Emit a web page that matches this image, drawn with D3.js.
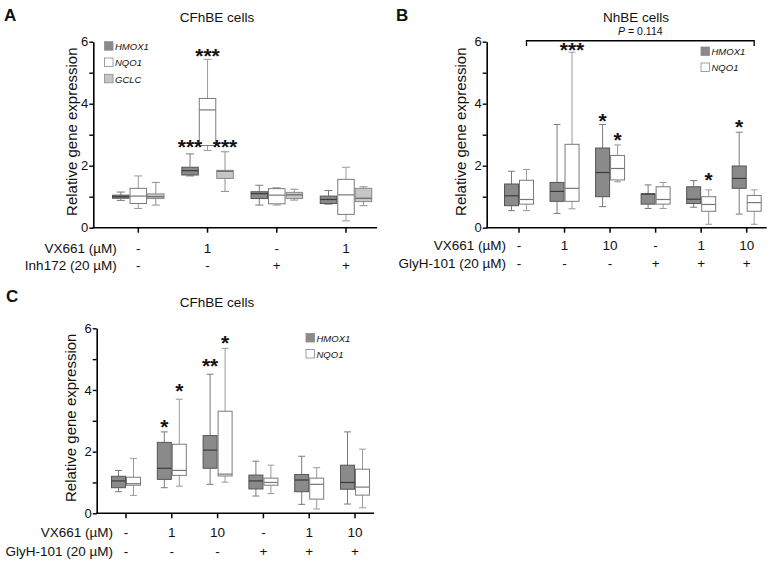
<!DOCTYPE html>
<html><head><meta charset="utf-8">
<script src="https://cdn.jsdelivr.net/npm/d3@7"></script>
<style>
body{margin:0;background:#fff}
svg{display:block}
text{font-family:"Liberation Sans",Arial,Helvetica,sans-serif;fill:#111}
</style>
</head><body>
<svg id="chart" width="773" height="565"></svg>
<script>
// ---------------- DATA ----------------
const yTickValues = [0, 1, 2, 3, 4, 5, 6];
const yTickLabels = ["0", "", "2", "", "4", "", "6"];
const seriesA = ["HMOX1", "NQO1", "GCLC"];
const seriesBC = ["HMOX1", "NQO1"];

// Panel A  (each entry: [min, q1, median, q3, max])
const vx661A = ["-", "1", "-", "1"];
const inh172A = ["-", "-", "+", "+"];
const hmox1A = [[0.88,0.95,1.00,1.05,1.15],[1.67,1.70,1.84,1.95,2.38],[0.73,0.94,1.10,1.16,1.37],[0.76,0.78,0.91,1.02,1.20]];
const nqo1A  = [[0.62,0.78,1.02,1.27,1.67],[2.49,2.65,3.80,4.17,5.43],[0.73,0.77,1.05,1.26,1.29],[0.22,0.43,1.06,1.56,1.95]];
const gclcA  = [[0.73,0.94,1.00,1.09,1.46],[1.17,1.59,1.82,1.85,2.45],[0.89,0.94,1.06,1.14,1.24],[0.71,0.84,0.95,1.27,1.32]];
const sigA = [[1,"HMOX1","***",2.77],[1,"NQO1","***",5.71],[1,"GCLC","***",2.77]];

// Panel B
const vx661B = ["-", "1", "10", "-", "1", "10"];
const glyhB = ["-", "-", "-", "+", "+", "+"];
const hmox1B = [[0.55,0.71,1.03,1.41,1.82],[0.46,0.85,1.17,1.46,3.33],[0.68,1.00,1.78,2.57,3.33],[0.62,0.76,1.09,1.09,1.38],[0.66,0.78,0.92,1.32,1.52],[0.44,1.27,1.59,1.99,3.08]];
const nqo1B  = [[0.55,0.76,0.91,1.53,1.88],[0.61,0.85,1.27,2.69,5.66],[1.48,1.54,1.91,2.33,2.67],[0.62,0.76,0.91,1.32,1.46],[0.11,0.53,0.75,1.00,1.22],[0.11,0.53,0.81,1.04,1.22]];
const sigB = [[1,"NQO1","***",5.89],[2,"HMOX1","*",3.60],[2,"NQO1","*",2.99],[4,"NQO1","*",1.70],[5,"HMOX1","*",3.42]];
const bracketB = {from: 0, to: 5, series: "NQO1", level: 6.03, drop: 0.17, label: "0.114"};

// Panel C
const vx661C = ["-", "1", "10", "-", "1", "10"];
const glyhC = ["-", "-", "-", "+", "+", "+"];
const hmox1C = [[0.70,0.83,1.05,1.20,1.39],[0.83,1.10,1.46,2.30,2.64],[0.94,1.46,2.05,2.52,4.51],[0.56,0.79,1.05,1.24,1.69],[0.29,0.70,1.08,1.26,1.85],[0.30,0.78,1.00,1.56,2.64]];
const nqo1C  = [[0.58,0.91,0.96,1.17,1.78],[0.88,1.23,1.39,2.24,3.70],[1.01,1.21,1.27,3.31,5.35],[0.64,0.91,1.00,1.14,1.56],[0.14,0.46,0.94,1.14,1.48],[0.18,0.59,0.85,1.43,2.08]];
const sigC = [[1,"HMOX1","*",2.97],[1,"NQO1","*",4.13],[2,"HMOX1","**",4.94],[2,"NQO1","*",5.70]];

// ---------------- STYLE ----------------
const style = {
  HMOX1: {fill:"#8a8a8a", stroke:"#555", median:"#3a3a3a", whisker:"#7a7a7a"},
  NQO1:  {fill:"#ffffff", stroke:"#7a7a7a", median:"#777", whisker:"#9a9a9a"},
  GCLC:  {fill:"#c6c6c6", stroke:"#8a8a8a", median:"#666", whisker:"#8f8f8f"}
};

const svg = d3.select("#chart");

function drawPanel(cfg) {
  const g = svg.append("g");
  const y = d3.scaleLinear().domain([0, 6]).range([cfg.yBottom, cfg.yTop]);
  const x = d3.scalePoint().domain(d3.range(cfg.rows[0].length)).range(cfg.catRange);
  const s = d3.scaleBand().domain(cfg.series).range([-cfg.boxW * cfg.series.length / 2, cfg.boxW * cfg.series.length / 2]);
  const bw = s.bandwidth();
  const cx = (i, name) => x(i) + s(name) + bw / 2;

  // panel letter & title
  g.append("text").attr("x", cfg.letterX).attr("y", cfg.letterY)
    .style("font-size", "17px").style("font-weight", "bold").text(cfg.letter);
  g.append("text").attr("x", cfg.titleX).attr("y", cfg.titleY).attr("text-anchor", "middle")
    .style("font-size", "13.5px").text(cfg.title);

  // boxes
  cfg.series.forEach((name, si) => {
    const st = style[name];
    cfg.data[si].forEach((d, i) => {
      const [mn, q1, md, q3, mx] = d;
      const c = cx(i, name);
      const capW = bw * 0.46;
      const gg = g.append("g");
      // whiskers
      [[q3, mx], [q1, mn]].forEach(([a, b]) => {
        gg.append("line").attr("x1", c).attr("x2", c).attr("y1", y(a)).attr("y2", y(b))
          .attr("stroke", st.whisker).attr("stroke-width", 1);
        gg.append("line").attr("x1", c - capW / 2).attr("x2", c + capW / 2).attr("y1", y(b)).attr("y2", y(b))
          .attr("stroke", st.whisker).attr("stroke-width", 1);
      });
      gg.append("rect").attr("x", c - bw / 2 + 0.5).attr("width", bw - 1)
        .attr("y", y(q3)).attr("height", Math.max(0.5, y(q1) - y(q3)))
        .attr("fill", st.fill).attr("stroke", st.stroke).attr("stroke-width", 1);
      gg.append("line").attr("x1", c - bw / 2 + 0.5).attr("x2", c + bw / 2 - 0.5).attr("y1", y(md)).attr("y2", y(md))
        .attr("stroke", st.median).attr("stroke-width", 1.2);
    });
  });

  // significance stars
  cfg.sig.forEach(([i, name, lab, lev]) => {
    g.append("text").attr("x", cx(i, name)).attr("y", y(lev) + 12)
      .attr("text-anchor", "middle").style("font-size", "21px").style("font-weight", "bold")
      .text(lab);
  });

  // y axis
  const ax = d3.axisLeft(y).tickValues(yTickValues).tickFormat((d, i) => yTickLabels[i])
    .tickSize(4).tickSizeOuter(0).tickPadding(1);
  const ga = g.append("g").attr("transform", `translate(${cfg.axisX0},0)`).call(ax);
  ga.select(".domain").attr("stroke", "#000").attr("stroke-width", 1.6);
  ga.selectAll(".tick line").attr("stroke", "#000").attr("stroke-width", 1.4);
  ga.selectAll(".tick text").style("font-size", "13px").attr("fill", "#111")
    .style("font-family", '"Liberation Sans",Arial,sans-serif');

  // x axis
  g.append("line").attr("x1", cfg.axisX0 - 0.8).attr("x2", cfg.axisX1).attr("y1", y(0)).attr("y2", y(0))
    .attr("stroke", "#000").attr("stroke-width", 1.6);
  x.domain().forEach(i => {
    g.append("line").attr("x1", x(i)).attr("x2", x(i)).attr("y1", y(0)).attr("y2", y(0) + 5)
      .attr("stroke", "#000").attr("stroke-width", 1.5);
  });

  // y label
  const ym = (y(0) + y(6)) / 2 - 3;
  g.append("text").attr("transform", `translate(${cfg.ylabX},${ym}) rotate(-90)`)
    .attr("text-anchor", "middle").style("font-size", "15px").text("Relative gene expression");

  // row labels
  cfg.rowNames.forEach((nm, r) => {
    g.append("text").attr("x", cfg.rowLabelX).attr("y", cfg.rowY[r]).attr("text-anchor", "end")
      .style("font-size", "13.5px").text(nm);
    cfg.rows[r].forEach((v, i) => {
      g.append("text").attr("x", x(i)).attr("y", cfg.rowY[r]).attr("text-anchor", "middle")
        .style("font-size", "13.5px").text(v);
    });
  });

  // legend
  cfg.series.forEach((name, si) => {
    const ly = cfg.legY + si * cfg.legStep;
    g.append("rect").attr("x", cfg.legX).attr("y", ly).attr("width", 8.5).attr("height", 8.5)
      .attr("fill", style[name].fill).attr("stroke", "#8a8a8a").attr("stroke-width", 0.8);
    g.append("text").attr("x", cfg.legX + 10.5).attr("y", ly + 8.3)
      .style("font-size", "9.5px").style("font-style", "italic").attr("fill", "#222").text(name);
  });

  // bracket
  if (cfg.bracket) {
    const b = cfg.bracket;
    const x1 = cx(b.from, b.series), x2 = cx(b.to, b.series);
    const yb = y(b.level), yd = y(b.level - b.drop);
    g.append("path").attr("d", `M${x1},${yd}V${yb}H${x2}V${yd}`)
      .attr("fill", "none").attr("stroke", "#000").attr("stroke-width", 1.3);
    const t = g.append("text").attr("x", (x1 + x2) / 2).attr("y", yb - 6).attr("text-anchor", "middle")
      .style("font-size", "10.5px");
    t.append("tspan").style("font-style", "italic").text("P");
    t.append("tspan").text(" = " + b.label);
  }
}

drawPanel({
  letter: "A", letterX: 4, letterY: 21, title: "CFhBE cells", titleX: 217, titleY: 21.5,
  series: seriesA, data: [hmox1A, nqo1A, gclcA], sig: sigA,
  yBottom: 227.7, yTop: 41.7, axisX0: 93.3, axisX1: 377, catRange: [138.3, 346], boxW: 17.5,
  ylabX: 76.5, rowNames: ["VX661 (µM)", "Inh172 (20 µM)"], rows: [vx661A, inh172A],
  rowLabelX: 116.7, rowY: [253, 269.5], legX: 104.5, legY: 41.7, legStep: 16.3
});

drawPanel({
  letter: "B", letterX: 396, letterY: 20.5, title: "NhBE cells", titleX: 636, titleY: 21.7,
  series: seriesBC, data: [hmox1B, nqo1B], sig: sigB, bracket: bracketB,
  yBottom: 227.7, yTop: 41.7, axisX0: 486.7, axisX1: 766.7, catRange: [519, 746.7], boxW: 15,
  ylabX: 466, rowNames: ["VX661 (µM)", "GlyH-101 (20 µM)"], rows: [vx661B, glyhB],
  rowLabelX: 506, rowY: [249.5, 267.7], legX: 701, legY: 47, legStep: 16
});

drawPanel({
  letter: "C", letterX: 6, letterY: 302, title: "CFhBE cells", titleX: 217, titleY: 306.7,
  series: seriesBC, data: [hmox1C, nqo1C], sig: sigC,
  yBottom: 513.3, yTop: 328.3, axisX0: 96.7, axisX1: 374, catRange: [126, 355], boxW: 15,
  ylabX: 76, rowNames: ["VX661 (µM)", "GlyH-101 (20 µM)"], rows: [vx661C, glyhC],
  rowLabelX: 113, rowY: [536.7, 555.5], legX: 306, legY: 333.5, legStep: 16
});
</script>
</body></html>
